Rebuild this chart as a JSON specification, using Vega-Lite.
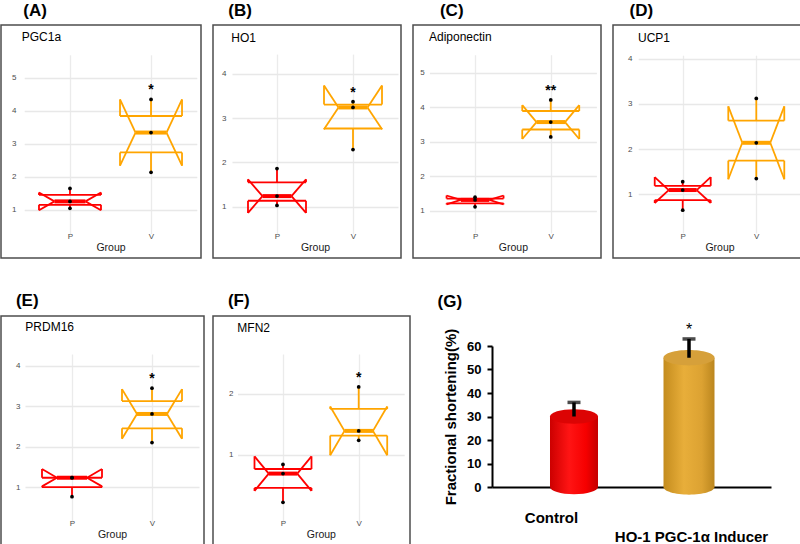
{
"$schema":"https://vega.github.io/schema/vega-lite/v6.json",
"padding":{"left":0,"top":1,"right":0,"bottom":0},
"config":{
 "font":"Liberation Sans",
 "view":{"stroke":"#4d4d4d","strokeWidth":1.5},
 "title":{"fontSize":17,"fontWeight":"bold","anchor":"start","baseline":"alphabetic","color":"#000000"},
 "rule":{"strokeWidth":1.8}
},
"spacing":33,
"vconcat":[
{"spacing":10,"hconcat":[
 {"title":{"text":"(A)","dx":23,"offset":4.5},"vconcat":[{
  "width":200,"height":233,
  "title":{"text":"PGC1a","fontSize":12,"fontWeight":"normal","dx":20.7,"offset":-18.7},
  "data":{"values":[
   {"g":"P","q1":1.155,"med":1.26,"q3":1.455,"nlo":0.99,"nhi":1.53,"lo":1.05,"hi":1.65,"sig":""},
   {"g":"V","q1":2.74,"med":3.34,"q3":3.84,"nlo":2.34,"nhi":4.34,"lo":2.14,"hi":4.34,"sig":"*"}]},
  "encoding":{
   "x":{"field":"g","type":"nominal","scale":{"type":"point","domain":["P","V"],"range":[23.2,195.8],"padding":0.565},
    "axis":{"title":"Group","offset":-28,"labelAngle":0,"domain":false,"ticks":false,"labelPadding":2,"labelFontSize":8,"labelColor":"#4d4d4d","titleFontSize":10.5,"titleFontWeight":"normal","titleColor":"#1a1a1a","titlePadding":2,"grid":true,"gridColor":"#ebebeb","gridWidth":1.3}},
   "color":{"field":"g","type":"nominal","scale":{"domain":["P","V"],"range":["#ff0000","#ffa500"]},"legend":null}},
  "layer":[
   {"mark":{"type":"rule","xOffset":-31,"x2Offset":31},"encoding":{"x2":{"field":"g"},"y":{"field":"q3","type":"quantitative","scale":{"domain":[0.45,5.85],"range":[203.2,24.5],"nice":false,"zero":false},
     "axis":{"title":null,"offset":-17,"values":[1,2,3,4,5],"tickCount":100,"format":"d","labelOverlap":false,"domain":false,"ticks":false,"labelPadding":2,"labelFontSize":8,"labelColor":"#4d4d4d","grid":true,"gridColor":"#e8e8e8","gridWidth":1.3}}}},
   {"mark":{"type":"rule","xOffset":-31,"x2Offset":31},"encoding":{"x2":{"field":"g"},"y":{"field":"q1","type":"quantitative"}}},
   {"mark":{"type":"rule","xOffset":-31},"encoding":{"y":{"field":"q3","type":"quantitative"},"y2":{"field":"nhi"}}},
   {"mark":{"type":"rule","xOffset":31},"encoding":{"y":{"field":"q3","type":"quantitative"},"y2":{"field":"nhi"}}},
   {"mark":{"type":"rule","xOffset":-31},"encoding":{"y":{"field":"nlo","type":"quantitative"},"y2":{"field":"q1"}}},
   {"mark":{"type":"rule","xOffset":31},"encoding":{"y":{"field":"nlo","type":"quantitative"},"y2":{"field":"q1"}}},
   {"mark":{"type":"rule","xOffset":-31,"x2Offset":-15.5},"encoding":{"x2":{"field":"g"},"y":{"field":"nhi","type":"quantitative"},"y2":{"field":"med"}}},
   {"mark":{"type":"rule","xOffset":31,"x2Offset":15.5},"encoding":{"x2":{"field":"g"},"y":{"field":"nhi","type":"quantitative"},"y2":{"field":"med"}}},
   {"mark":{"type":"rule","xOffset":-31,"x2Offset":-15.5},"encoding":{"x2":{"field":"g"},"y":{"field":"nlo","type":"quantitative"},"y2":{"field":"med"}}},
   {"mark":{"type":"rule","xOffset":31,"x2Offset":15.5},"encoding":{"x2":{"field":"g"},"y":{"field":"nlo","type":"quantitative"},"y2":{"field":"med"}}},
   {"mark":{"type":"rule","xOffset":-15.5,"x2Offset":15.5,"strokeWidth":4},"encoding":{"x2":{"field":"g"},"y":{"field":"med","type":"quantitative"}}},
   {"mark":{"type":"rule"},"encoding":{"y":{"field":"q3","type":"quantitative"},"y2":{"field":"hi"}}},
   {"mark":{"type":"rule"},"encoding":{"y":{"field":"lo","type":"quantitative"},"y2":{"field":"q1"}}},
   {"data":{"values":[{"g":"P","v":1.05},{"g":"P","v":1.26},{"g":"P","v":1.65},{"g":"V","v":2.14},{"g":"V","v":3.34},{"g":"V","v":4.34}]},
    "mark":{"type":"circle","size":14,"opacity":1},"encoding":{"y":{"field":"v","type":"quantitative"},"color":{"value":"black"}}},
   {"mark":{"type":"text","dy":-9,"fontSize":14,"fontWeight":"bold"},"encoding":{"y":{"field":"hi","type":"quantitative"},"text":{"field":"sig"},"color":{"value":"black"}}}
  ]}]},
 {"title":{"text":"(B)","dx":16,"offset":4.5},"vconcat":[{
  "width":188,"height":233,
  "title":{"text":"HO1","fontSize":12,"fontWeight":"normal","dx":18.3,"offset":-19.7},
  "data":{"values":[
   {"g":"P","q1":1.135,"med":1.24,"q3":1.55,"nlo":0.861,"nhi":1.619,"lo":1.03,"hi":1.86,"sig":""},
   {"g":"V","q1":2.765,"med":3.24,"q3":3.305,"nlo":2.747,"nhi":3.733,"lo":2.29,"hi":3.37,"sig":"*"}]},
  "encoding":{
   "x":{"field":"g","type":"nominal","scale":{"type":"point","domain":["P","V"],"range":[19,185],"padding":0.592},
    "axis":{"title":"Group","offset":-28,"labelAngle":0,"domain":false,"ticks":false,"labelPadding":2,"labelFontSize":8,"labelColor":"#4d4d4d","titleFontSize":10.5,"titleFontWeight":"normal","titleColor":"#1a1a1a","titlePadding":2,"grid":true,"gridColor":"#ebebeb","gridWidth":1.3}},
   "color":{"field":"g","type":"nominal","scale":{"domain":["P","V"],"range":["#ff0000","#ffa500"]},"legend":null}},
  "layer":[
   {"mark":{"type":"rule","xOffset":-29,"x2Offset":29},"encoding":{"x2":{"field":"g"},"y":{"field":"q3","type":"quantitative","scale":{"domain":[0.5,4.55],"range":[203.9,24.4],"nice":false,"zero":false},
     "axis":{"title":null,"offset":-15,"values":[1,2,3,4],"tickCount":100,"format":"d","labelOverlap":false,"domain":false,"ticks":false,"labelPadding":2,"labelFontSize":8,"labelColor":"#4d4d4d","grid":true,"gridColor":"#e8e8e8","gridWidth":1.3}}}},
   {"mark":{"type":"rule","xOffset":-29,"x2Offset":29},"encoding":{"x2":{"field":"g"},"y":{"field":"q1","type":"quantitative"}}},
   {"mark":{"type":"rule","xOffset":-29},"encoding":{"y":{"field":"q3","type":"quantitative"},"y2":{"field":"nhi"}}},
   {"mark":{"type":"rule","xOffset":29},"encoding":{"y":{"field":"q3","type":"quantitative"},"y2":{"field":"nhi"}}},
   {"mark":{"type":"rule","xOffset":-29},"encoding":{"y":{"field":"nlo","type":"quantitative"},"y2":{"field":"q1"}}},
   {"mark":{"type":"rule","xOffset":29},"encoding":{"y":{"field":"nlo","type":"quantitative"},"y2":{"field":"q1"}}},
   {"mark":{"type":"rule","xOffset":-29,"x2Offset":-14.5},"encoding":{"x2":{"field":"g"},"y":{"field":"nhi","type":"quantitative"},"y2":{"field":"med"}}},
   {"mark":{"type":"rule","xOffset":29,"x2Offset":14.5},"encoding":{"x2":{"field":"g"},"y":{"field":"nhi","type":"quantitative"},"y2":{"field":"med"}}},
   {"mark":{"type":"rule","xOffset":-29,"x2Offset":-14.5},"encoding":{"x2":{"field":"g"},"y":{"field":"nlo","type":"quantitative"},"y2":{"field":"med"}}},
   {"mark":{"type":"rule","xOffset":29,"x2Offset":14.5},"encoding":{"x2":{"field":"g"},"y":{"field":"nlo","type":"quantitative"},"y2":{"field":"med"}}},
   {"mark":{"type":"rule","xOffset":-14.5,"x2Offset":14.5,"strokeWidth":4},"encoding":{"x2":{"field":"g"},"y":{"field":"med","type":"quantitative"}}},
   {"mark":{"type":"rule"},"encoding":{"y":{"field":"q3","type":"quantitative"},"y2":{"field":"hi"}}},
   {"mark":{"type":"rule"},"encoding":{"y":{"field":"lo","type":"quantitative"},"y2":{"field":"q1"}}},
   {"data":{"values":[{"g":"P","v":1.03},{"g":"P","v":1.24},{"g":"P","v":1.86},{"g":"V","v":2.29},{"g":"V","v":3.24},{"g":"V","v":3.37}]},
    "mark":{"type":"circle","size":14,"opacity":1},"encoding":{"y":{"field":"v","type":"quantitative"},"color":{"value":"black"}}},
   {"mark":{"type":"text","dy":-9,"fontSize":14,"fontWeight":"bold"},"encoding":{"y":{"field":"hi","type":"quantitative"},"text":{"field":"sig"},"color":{"value":"black"}}}
  ]}]},
 {"title":{"text":"(C)","dx":27.7,"offset":4.5},"vconcat":[{
  "width":188,"height":233,
  "title":{"text":"Adiponectin","fontSize":12,"fontWeight":"normal","dx":16,"offset":-18.7},
  "data":{"values":[
   {"g":"P","q1":1.22,"med":1.32,"q3":1.36,"nlo":1.192,"nhi":1.448,"lo":1.12,"hi":1.4,"sig":""},
   {"g":"V","q1":3.355,"med":3.57,"q3":3.89,"nlo":3.082,"nhi":4.058,"lo":3.14,"hi":4.21,"sig":"**"}]},
  "encoding":{
   "x":{"field":"g","type":"nominal","scale":{"type":"point","domain":["P","V"],"range":[16.4,183.4],"padding":0.603},
    "axis":{"title":"Group","offset":-28,"labelAngle":0,"domain":false,"ticks":false,"labelPadding":2,"labelFontSize":8,"labelColor":"#4d4d4d","titleFontSize":10.5,"titleFontWeight":"normal","titleColor":"#1a1a1a","titlePadding":2,"grid":true,"gridColor":"#ebebeb","gridWidth":1.3}},
   "color":{"field":"g","type":"nominal","scale":{"domain":["P","V"],"range":["#ff0000","#ffa500"]},"legend":null}},
  "layer":[
   {"mark":{"type":"rule","xOffset":-28.5,"x2Offset":28.5},"encoding":{"x2":{"field":"g"},"y":{"field":"q3","type":"quantitative","scale":{"domain":[0.5,5.65],"range":[203.3,25.1],"nice":false,"zero":false},
     "axis":{"title":null,"offset":-13.3,"values":[1,2,3,4,5],"tickCount":100,"format":"d","labelOverlap":false,"domain":false,"ticks":false,"labelPadding":2,"labelFontSize":8,"labelColor":"#4d4d4d","grid":true,"gridColor":"#e8e8e8","gridWidth":1.3}}}},
   {"mark":{"type":"rule","xOffset":-28.5,"x2Offset":28.5},"encoding":{"x2":{"field":"g"},"y":{"field":"q1","type":"quantitative"}}},
   {"mark":{"type":"rule","xOffset":-28.5},"encoding":{"y":{"field":"q3","type":"quantitative"},"y2":{"field":"nhi"}}},
   {"mark":{"type":"rule","xOffset":28.5},"encoding":{"y":{"field":"q3","type":"quantitative"},"y2":{"field":"nhi"}}},
   {"mark":{"type":"rule","xOffset":-28.5},"encoding":{"y":{"field":"nlo","type":"quantitative"},"y2":{"field":"q1"}}},
   {"mark":{"type":"rule","xOffset":28.5},"encoding":{"y":{"field":"nlo","type":"quantitative"},"y2":{"field":"q1"}}},
   {"mark":{"type":"rule","xOffset":-28.5,"x2Offset":-14.25},"encoding":{"x2":{"field":"g"},"y":{"field":"nhi","type":"quantitative"},"y2":{"field":"med"}}},
   {"mark":{"type":"rule","xOffset":28.5,"x2Offset":14.25},"encoding":{"x2":{"field":"g"},"y":{"field":"nhi","type":"quantitative"},"y2":{"field":"med"}}},
   {"mark":{"type":"rule","xOffset":-28.5,"x2Offset":-14.25},"encoding":{"x2":{"field":"g"},"y":{"field":"nlo","type":"quantitative"},"y2":{"field":"med"}}},
   {"mark":{"type":"rule","xOffset":28.5,"x2Offset":14.25},"encoding":{"x2":{"field":"g"},"y":{"field":"nlo","type":"quantitative"},"y2":{"field":"med"}}},
   {"mark":{"type":"rule","xOffset":-14.25,"x2Offset":14.25,"strokeWidth":4},"encoding":{"x2":{"field":"g"},"y":{"field":"med","type":"quantitative"}}},
   {"mark":{"type":"rule"},"encoding":{"y":{"field":"q3","type":"quantitative"},"y2":{"field":"hi"}}},
   {"mark":{"type":"rule"},"encoding":{"y":{"field":"lo","type":"quantitative"},"y2":{"field":"q1"}}},
   {"data":{"values":[{"g":"P","v":1.12},{"g":"P","v":1.32},{"g":"P","v":1.4},{"g":"V","v":3.14},{"g":"V","v":3.57},{"g":"V","v":4.21}]},
    "mark":{"type":"circle","size":14,"opacity":1},"encoding":{"y":{"field":"v","type":"quantitative"},"color":{"value":"black"}}},
   {"mark":{"type":"text","dy":-9,"fontSize":14,"fontWeight":"bold"},"encoding":{"y":{"field":"hi","type":"quantitative"},"text":{"field":"sig"},"color":{"value":"black"}}}
  ]}]},
 {"title":{"text":"(D)","dx":17.3,"offset":4.5},"vconcat":[{
  "width":188,"height":233,
  "title":{"text":"UCP1","fontSize":12,"fontWeight":"normal","dx":25,"offset":-19.7},
  "data":{"values":[
   {"g":"P","q1":0.8725,"med":1.095,"q3":1.1875,"nlo":0.808,"nhi":1.382,"lo":0.65,"hi":1.28,"sig":""},
   {"g":"V","q1":1.745,"med":2.14,"q3":2.63,"nlo":1.333,"nhi":2.947,"lo":1.35,"hi":3.12,"sig":""}]},
  "encoding":{
   "x":{"field":"g","type":"nominal","scale":{"type":"point","domain":["P","V"],"range":[25.2,187.8],"padding":0.605},
    "axis":{"title":"Group","offset":-28,"labelAngle":0,"domain":false,"ticks":false,"labelPadding":2,"labelFontSize":8,"labelColor":"#4d4d4d","titleFontSize":10.5,"titleFontWeight":"normal","titleColor":"#1a1a1a","titlePadding":2,"grid":true,"gridColor":"#ebebeb","gridWidth":1.3}},
   "color":{"field":"g","type":"nominal","scale":{"domain":["P","V"],"range":["#ff0000","#ffa500"]},"legend":null}},
  "layer":[
   {"mark":{"type":"rule","xOffset":-28,"x2Offset":28},"encoding":{"x2":{"field":"g"},"y":{"field":"q3","type":"quantitative","scale":{"domain":[0.26,4.19],"range":[202.8,25.1],"nice":false,"zero":false},
     "axis":{"title":null,"offset":-21,"values":[1,2,3,4],"tickCount":100,"format":"d","labelOverlap":false,"domain":false,"ticks":false,"labelPadding":2,"labelFontSize":8,"labelColor":"#4d4d4d","grid":true,"gridColor":"#e8e8e8","gridWidth":1.3}}}},
   {"mark":{"type":"rule","xOffset":-28,"x2Offset":28},"encoding":{"x2":{"field":"g"},"y":{"field":"q1","type":"quantitative"}}},
   {"mark":{"type":"rule","xOffset":-28},"encoding":{"y":{"field":"q3","type":"quantitative"},"y2":{"field":"nhi"}}},
   {"mark":{"type":"rule","xOffset":28},"encoding":{"y":{"field":"q3","type":"quantitative"},"y2":{"field":"nhi"}}},
   {"mark":{"type":"rule","xOffset":-28},"encoding":{"y":{"field":"nlo","type":"quantitative"},"y2":{"field":"q1"}}},
   {"mark":{"type":"rule","xOffset":28},"encoding":{"y":{"field":"nlo","type":"quantitative"},"y2":{"field":"q1"}}},
   {"mark":{"type":"rule","xOffset":-28,"x2Offset":-14},"encoding":{"x2":{"field":"g"},"y":{"field":"nhi","type":"quantitative"},"y2":{"field":"med"}}},
   {"mark":{"type":"rule","xOffset":28,"x2Offset":14},"encoding":{"x2":{"field":"g"},"y":{"field":"nhi","type":"quantitative"},"y2":{"field":"med"}}},
   {"mark":{"type":"rule","xOffset":-28,"x2Offset":-14},"encoding":{"x2":{"field":"g"},"y":{"field":"nlo","type":"quantitative"},"y2":{"field":"med"}}},
   {"mark":{"type":"rule","xOffset":28,"x2Offset":14},"encoding":{"x2":{"field":"g"},"y":{"field":"nlo","type":"quantitative"},"y2":{"field":"med"}}},
   {"mark":{"type":"rule","xOffset":-14,"x2Offset":14,"strokeWidth":4},"encoding":{"x2":{"field":"g"},"y":{"field":"med","type":"quantitative"}}},
   {"mark":{"type":"rule"},"encoding":{"y":{"field":"q3","type":"quantitative"},"y2":{"field":"hi"}}},
   {"mark":{"type":"rule"},"encoding":{"y":{"field":"lo","type":"quantitative"},"y2":{"field":"q1"}}},
   {"data":{"values":[{"g":"P","v":0.65},{"g":"P","v":1.095},{"g":"P","v":1.28},{"g":"V","v":1.35},{"g":"V","v":2.14},{"g":"V","v":3.12}]},
    "mark":{"type":"circle","size":14,"opacity":1},"encoding":{"y":{"field":"v","type":"quantitative"},"color":{"value":"black"}}},
   {"mark":{"type":"text","dy":-9,"fontSize":14,"fontWeight":"bold"},"encoding":{"y":{"field":"hi","type":"quantitative"},"text":{"field":"sig"},"color":{"value":"black"}}}
  ]}]}
]},
{"spacing":26,"hconcat":[
 {"spacing":7,"hconcat":[
 {"title":{"text":"(E)","dx":15.7,"offset":5},"vconcat":[{
  "width":203,"height":230,
  "title":{"text":"PRDM16","fontSize":12,"fontWeight":"normal","dx":24.3,"offset":-18.3},
  "data":{"values":[
   {"g":"P","q1":0.995,"med":1.23,"q3":1.23,"nlo":1.016,"nhi":1.444,"lo":0.76,"hi":1.23,"sig":""},
   {"g":"V","q1":2.455,"med":2.81,"q3":3.13,"nlo":2.194,"nhi":3.426,"lo":2.1,"hi":3.45,"sig":"*"}]},
  "encoding":{
   "x":{"field":"g","type":"nominal","scale":{"type":"point","domain":["P","V"],"range":[24,198],"padding":0.5875},
    "axis":{"title":"Group","offset":-29,"labelAngle":0,"domain":false,"ticks":false,"labelPadding":2,"labelFontSize":8,"labelColor":"#4d4d4d","titleFontSize":10.5,"titleFontWeight":"normal","titleColor":"#1a1a1a","titlePadding":2,"grid":true,"gridColor":"#ebebeb","gridWidth":1.3}},
   "color":{"field":"g","type":"nominal","scale":{"domain":["P","V"],"range":["#ff0000","#ffa500"]},"legend":null}},
  "layer":[
   {"mark":{"type":"rule","xOffset":-30,"x2Offset":30},"encoding":{"x2":{"field":"g"},"y":{"field":"q3","type":"quantitative","scale":{"domain":[0.48,4.65],"range":[192,23.7],"nice":false,"zero":false},
     "axis":{"title":null,"offset":-21,"values":[1,2,3,4],"tickCount":100,"format":"d","labelOverlap":false,"domain":false,"ticks":false,"labelPadding":2,"labelFontSize":8,"labelColor":"#4d4d4d","grid":true,"gridColor":"#e8e8e8","gridWidth":1.3}}}},
   {"mark":{"type":"rule","xOffset":-30,"x2Offset":30},"encoding":{"x2":{"field":"g"},"y":{"field":"q1","type":"quantitative"}}},
   {"mark":{"type":"rule","xOffset":-30},"encoding":{"y":{"field":"q3","type":"quantitative"},"y2":{"field":"nhi"}}},
   {"mark":{"type":"rule","xOffset":30},"encoding":{"y":{"field":"q3","type":"quantitative"},"y2":{"field":"nhi"}}},
   {"mark":{"type":"rule","xOffset":-30},"encoding":{"y":{"field":"nlo","type":"quantitative"},"y2":{"field":"q1"}}},
   {"mark":{"type":"rule","xOffset":30},"encoding":{"y":{"field":"nlo","type":"quantitative"},"y2":{"field":"q1"}}},
   {"mark":{"type":"rule","xOffset":-30,"x2Offset":-15},"encoding":{"x2":{"field":"g"},"y":{"field":"nhi","type":"quantitative"},"y2":{"field":"med"}}},
   {"mark":{"type":"rule","xOffset":30,"x2Offset":15},"encoding":{"x2":{"field":"g"},"y":{"field":"nhi","type":"quantitative"},"y2":{"field":"med"}}},
   {"mark":{"type":"rule","xOffset":-30,"x2Offset":-15},"encoding":{"x2":{"field":"g"},"y":{"field":"nlo","type":"quantitative"},"y2":{"field":"med"}}},
   {"mark":{"type":"rule","xOffset":30,"x2Offset":15},"encoding":{"x2":{"field":"g"},"y":{"field":"nlo","type":"quantitative"},"y2":{"field":"med"}}},
   {"mark":{"type":"rule","xOffset":-15,"x2Offset":15,"strokeWidth":4},"encoding":{"x2":{"field":"g"},"y":{"field":"med","type":"quantitative"}}},
   {"mark":{"type":"rule"},"encoding":{"y":{"field":"q3","type":"quantitative"},"y2":{"field":"hi"}}},
   {"mark":{"type":"rule"},"encoding":{"y":{"field":"lo","type":"quantitative"},"y2":{"field":"q1"}}},
   {"data":{"values":[{"g":"P","v":0.76},{"g":"P","v":1.23},{"g":"P","v":1.23},{"g":"V","v":2.1},{"g":"V","v":2.81},{"g":"V","v":3.45}]},
    "mark":{"type":"circle","size":14,"opacity":1},"encoding":{"y":{"field":"v","type":"quantitative"},"color":{"value":"black"}}},
   {"mark":{"type":"text","dy":-9,"fontSize":14,"fontWeight":"bold"},"encoding":{"y":{"field":"hi","type":"quantitative"},"text":{"field":"sig"},"color":{"value":"black"}}}
  ]}]},
 {"title":{"text":"(F)","dx":15.7,"offset":5},"vconcat":[{
  "width":197,"height":230,
  "title":{"text":"MFN2","fontSize":12,"fontWeight":"normal","dx":24.3,"offset":-19},
  "data":{"values":[
   {"g":"P","q1":0.455,"med":0.69,"q3":0.765,"nlo":0.407,"nhi":0.973,"lo":0.22,"hi":0.84,"sig":""},
   {"g":"V","q1":1.313,"med":1.39,"q3":1.75,"nlo":0.991,"nhi":1.789,"lo":1.236,"hi":2.11,"sig":"*"}]},
  "encoding":{
   "x":{"field":"g","type":"nominal","scale":{"type":"point","domain":["P","V"],"range":[24.5,191.2],"padding":0.601},
    "axis":{"title":"Group","offset":-29,"labelAngle":0,"domain":false,"ticks":false,"labelPadding":2,"labelFontSize":8,"labelColor":"#4d4d4d","titleFontSize":10.5,"titleFontWeight":"normal","titleColor":"#1a1a1a","titlePadding":2,"grid":true,"gridColor":"#ebebeb","gridWidth":1.3}},
   "color":{"field":"g","type":"nominal","scale":{"domain":["P","V"],"range":["#ff0000","#ffa500"]},"legend":null}},
  "layer":[
   {"mark":{"type":"rule","xOffset":-28.5,"x2Offset":28.5},"encoding":{"x2":{"field":"g"},"y":{"field":"q3","type":"quantitative","scale":{"domain":[0.126,2.885],"range":[192,23.7],"nice":false,"zero":false},
     "axis":{"title":null,"offset":-22,"values":[1,2],"tickCount":100,"format":"d","labelOverlap":false,"domain":false,"ticks":false,"labelPadding":2,"labelFontSize":8,"labelColor":"#4d4d4d","grid":true,"gridColor":"#e8e8e8","gridWidth":1.3}}}},
   {"mark":{"type":"rule","xOffset":-28.5,"x2Offset":28.5},"encoding":{"x2":{"field":"g"},"y":{"field":"q1","type":"quantitative"}}},
   {"mark":{"type":"rule","xOffset":-28.5},"encoding":{"y":{"field":"q3","type":"quantitative"},"y2":{"field":"nhi"}}},
   {"mark":{"type":"rule","xOffset":28.5},"encoding":{"y":{"field":"q3","type":"quantitative"},"y2":{"field":"nhi"}}},
   {"mark":{"type":"rule","xOffset":-28.5},"encoding":{"y":{"field":"nlo","type":"quantitative"},"y2":{"field":"q1"}}},
   {"mark":{"type":"rule","xOffset":28.5},"encoding":{"y":{"field":"nlo","type":"quantitative"},"y2":{"field":"q1"}}},
   {"mark":{"type":"rule","xOffset":-28.5,"x2Offset":-14.25},"encoding":{"x2":{"field":"g"},"y":{"field":"nhi","type":"quantitative"},"y2":{"field":"med"}}},
   {"mark":{"type":"rule","xOffset":28.5,"x2Offset":14.25},"encoding":{"x2":{"field":"g"},"y":{"field":"nhi","type":"quantitative"},"y2":{"field":"med"}}},
   {"mark":{"type":"rule","xOffset":-28.5,"x2Offset":-14.25},"encoding":{"x2":{"field":"g"},"y":{"field":"nlo","type":"quantitative"},"y2":{"field":"med"}}},
   {"mark":{"type":"rule","xOffset":28.5,"x2Offset":14.25},"encoding":{"x2":{"field":"g"},"y":{"field":"nlo","type":"quantitative"},"y2":{"field":"med"}}},
   {"mark":{"type":"rule","xOffset":-14.25,"x2Offset":14.25,"strokeWidth":4},"encoding":{"x2":{"field":"g"},"y":{"field":"med","type":"quantitative"}}},
   {"mark":{"type":"rule"},"encoding":{"y":{"field":"q3","type":"quantitative"},"y2":{"field":"hi"}}},
   {"mark":{"type":"rule"},"encoding":{"y":{"field":"lo","type":"quantitative"},"y2":{"field":"q1"}}},
   {"data":{"values":[{"g":"P","v":0.22},{"g":"P","v":0.69},{"g":"P","v":0.84},{"g":"V","v":1.236},{"g":"V","v":1.39},{"g":"V","v":2.11}]},
    "mark":{"type":"circle","size":14,"opacity":1},"encoding":{"y":{"field":"v","type":"quantitative"},"color":{"value":"black"}}},
   {"mark":{"type":"text","dy":-9,"fontSize":14,"fontWeight":"bold"},"encoding":{"y":{"field":"hi","type":"quantitative"},"text":{"field":"sig"},"color":{"value":"black"}}}
  ]}]}
 ]},
 {"hconcat":[
 {"title":{"text":"(G)","dx":-6,"offset":5},"vconcat":[{
  "width":279,"height":171,"view":{"stroke":null},
  "data":{"values":[{"grp":"Control","mean":30,"hi":36,"sig":""},{"grp":"HO-1 PGC-1α Inducer","mean":55,"hi":63,"sig":"*"}]},
  "encoding":{
   "x":{"field":"grp","type":"nominal","scale":{"type":"point","domain":["Control","HO-1 PGC-1α Inducer"],"padding":0.713},
    "axis":{"title":null,"labelAngle":0,"domain":true,"domainColor":"black","domainWidth":2,"ticks":false,"labelFontSize":15,"labelFontWeight":"bold","labelColor":"black",
     "labelPadding":{"condition":{"test":"datum.value === 'Control'","value":23},"value":42},
     "labelOffset":{"condition":{"test":"datum.value === 'Control'","value":-23},"value":2},"grid":false}}},
  "layer":[
   {"transform":[{"filter":"datum.grp === 'Control'"}],
    "mark":{"type":"point","shape":"M -1 0 A 1 0.3 0 1 1 1 0 A 1 0.3 0 1 1 -1 0 Z","size":2304,"filled":true,"opacity":1,"strokeWidth":0,
     "color":{"gradient":"linear","x1":0,"y1":0,"x2":1,"y2":0,"stops":[{"offset":0,"color":"#cc0000"},{"offset":0.4,"color":"#ff1414"},{"offset":0.75,"color":"#f60000"},{"offset":1,"color":"#c40000"}]}},
    "encoding":{"y":{"datum":0,"type":"quantitative","scale":{"domain":[0,60],"range":[171,30],"nice":false,"zero":false},
     "axis":{"title":"Fractional shortening(%)","values":[0,10,20,30,40,50,60],"tickCount":100,"format":"d","labelOverlap":false,"domain":true,"domainColor":"black","domainWidth":2,"ticks":true,"tickSize":5,"tickWidth":2,"tickColor":"black","labelFontSize":13,"labelFontWeight":"bold","labelColor":"black","labelPadding":6,"titleFontSize":15,"titleFontWeight":"bold","titleColor":"black","titlePadding":8,"grid":false}}}},
   {"transform":[{"filter":"datum.grp === 'Control'"}],
    "mark":{"type":"bar","width":48,
     "color":{"gradient":"linear","x1":0,"y1":0,"x2":1,"y2":0,"stops":[{"offset":0,"color":"#cc0000"},{"offset":0.4,"color":"#ff1414"},{"offset":0.75,"color":"#f60000"},{"offset":1,"color":"#c40000"}]}},
    "encoding":{"y":{"field":"mean","type":"quantitative"}}},
   {"transform":[{"filter":"datum.grp === 'Control'"}],
    "mark":{"type":"point","shape":"M -1 0 A 1 0.3 0 1 1 1 0 A 1 0.3 0 1 1 -1 0 Z","size":2304,"filled":true,"opacity":1,"strokeWidth":0,"color":"#dc0404"},
    "encoding":{"y":{"field":"mean","type":"quantitative"}}},
   {"transform":[{"filter":"datum.grp !== 'Control'"}],
    "mark":{"type":"point","shape":"M -1 0 A 1 0.3 0 1 1 1 0 A 1 0.3 0 1 1 -1 0 Z","size":2601,"filled":true,"opacity":1,"strokeWidth":0,
     "color":{"gradient":"linear","x1":0,"y1":0,"x2":1,"y2":0,"stops":[{"offset":0,"color":"#c48c1e"},{"offset":0.4,"color":"#e8ae3a"},{"offset":0.75,"color":"#dca232"},{"offset":1,"color":"#bb861e"}]}},
    "encoding":{"y":{"datum":0,"type":"quantitative"}}},
   {"transform":[{"filter":"datum.grp !== 'Control'"}],
    "mark":{"type":"bar","width":51,
     "color":{"gradient":"linear","x1":0,"y1":0,"x2":1,"y2":0,"stops":[{"offset":0,"color":"#c48c1e"},{"offset":0.4,"color":"#e8ae3a"},{"offset":0.75,"color":"#dca232"},{"offset":1,"color":"#bb861e"}]}},
    "encoding":{"y":{"field":"mean","type":"quantitative"}}},
   {"transform":[{"filter":"datum.grp !== 'Control'"}],
    "mark":{"type":"point","shape":"M -1 0 A 1 0.3 0 1 1 1 0 A 1 0.3 0 1 1 -1 0 Z","size":2601,"filled":true,"opacity":1,"strokeWidth":0,"color":"#d6a03a"},
    "encoding":{"y":{"field":"mean","type":"quantitative"}}},
   {"mark":{"type":"rule","strokeWidth":3.5,"color":"black"},"encoding":{"y":{"field":"mean","type":"quantitative"},"y2":{"field":"hi"}}},
   {"mark":{"type":"tick","size":13,"thickness":3.5,"color":"black","orient":"horizontal"},"encoding":{"y":{"field":"hi","type":"quantitative"}}},
   {"mark":{"type":"text","dy":-9,"fontSize":16,"color":"black"},"encoding":{"y":{"field":"hi","type":"quantitative"},"text":{"field":"sig"}}}
  ]}]}
 ]}
]}
]
}
